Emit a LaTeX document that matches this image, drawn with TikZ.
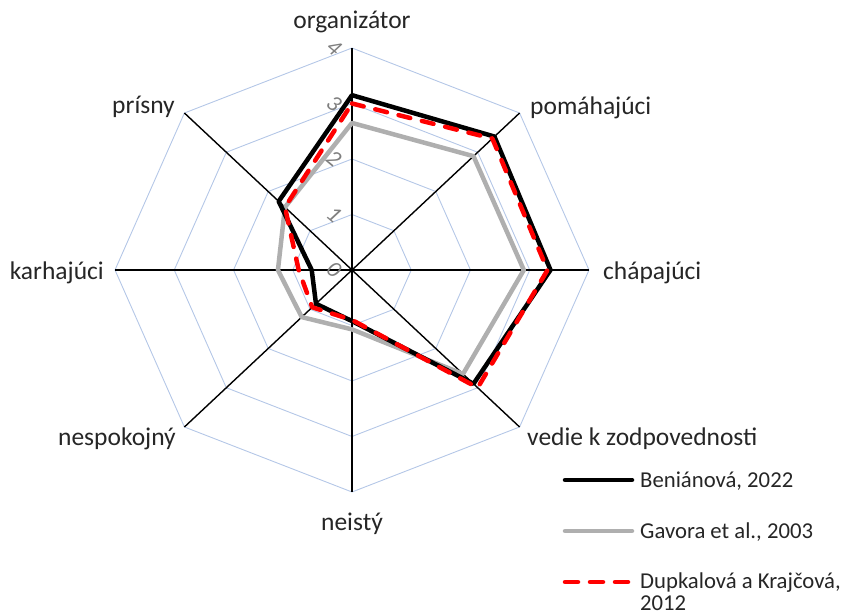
\documentclass[tikz,border=0pt]{standalone}
\usepackage{fontspec}
\setmainfont{Carlito}
\definecolor{ringblue}{HTML}{B4C7E7}
\definecolor{serGray}{HTML}{AFAFAF}
\definecolor{txt}{HTML}{262626}
\definecolor{tickgray}{HTML}{7F7F7F}
\tikzset{
  ring/.style={draw=ringblue, line width=0.9pt},
  spoke/.style={draw=black, line width=1.4pt},
  lbl/.style={inner sep=0pt, text=txt, font=\fontsize{25.5}{30}\selectfont},
  leg/.style={inner sep=0pt, text=txt, font=\fontsize{22.7}{27}\selectfont, anchor=base west},
  tick/.style={inner sep=0pt, text=tickgray, font=\itshape\fontsize{23}{27}\selectfont, rotate=-40},
  serBlack/.style={draw=black, line width=4.5pt, line join=round},
  serGrayLine/.style={draw=serGray, line width=4.5pt, line join=round},
  serRed/.style={draw=red, line width=4.5pt, line join=round, line cap=round, dash pattern=on 12pt off 12pt},
}
\begin{document}
\begin{tikzpicture}[x=1pt,y=1pt]
\useasboundingbox (0,0) rectangle (849,-615);

% radar grid, spokes and series, in value units around the centre
\begin{scope}[shift={(352,-270)}, x=59.25pt, y=55.5pt]
  \coordinate (c) at (0,0);
  \foreach \n/\a in {1/90,2/45,3/0,4/-45,5/-90,6/-135,7/180,8/135}
    \coordinate (ax\n) at (\a:4);
  \foreach \r in {1,2,3,4}
    \draw[ring] (90:\r)--(45:\r)--(0:\r)--(-45:\r)--(-90:\r)--(-135:\r)--(180:\r)--(135:\r)--cycle;
  \foreach \n in {1,...,8}
    \draw[spoke] (c) -- (ax\n);

  % Gavora et al., 2003
  \foreach \n/\a/\v in {1/90/2.65,2/45/2.9,3/0/2.9,4/-45/2.65,5/-90/1.07,6/-135/1.2,7/180/1.25,8/135/1.6}
    \coordinate (g\n) at (\a:\v);
  \draw[serGrayLine] (g1)--(g2)--(g3)--(g4)--(g5)--(g6)--(g7)--(g8)--cycle;

  % Beniánová, 2022
  \foreach \n/\a/\v in {1/90/3.15,2/45/3.4,3/0/3.35,4/-45/2.9,5/-90/0.92,6/-135/0.86,7/180/0.68,8/135/1.75}
    \coordinate (b\n) at (\a:\v);
  \draw[serBlack] (b1)--(b2)--(b3)--(b4)--(b5)--(b6)--(b7)--(b8)--cycle;

  % Dupkalová a Krajčová, 2012
  \foreach \n/\a/\v in {1/90/3.0,2/45/3.35,3/0/3.3,4/-45/3.0,5/-90/0.9,6/-135/0.95,7/180/0.9,8/135/1.6}
    \coordinate (d\n) at (\a:\v);
  \draw[serRed] (d1)--(d2)--(d3)--(d4)--(d5)--(d6)--(d7)--(d8)--cycle;
\end{scope}

% value scale
\foreach \k in {0,...,4}
  \node[tick] (t\k) at (334,{-270+55.5*\k}) {\k};

% axis labels
\node[lbl, anchor=base] (lorg) at (352,-29) {organizátor};
\node[lbl, anchor=base west] (lpom) at (530,-115) {pomáhajúci};
\node[lbl, anchor=base west] (lcha) at (603,-279) {chápajúci};
\node[lbl, anchor=base west] (lved) at (527,-445) {vedie k zodpovednosti};
\node[lbl, anchor=base] (lnei) at (352,-530) {neistý};
\node[lbl, anchor=base east] (lnes) at (176,-445) {nespokojný};
\node[lbl, anchor=base east] (lkar) at (104,-279) {karhajúci};
\node[lbl, anchor=base east] (lpri) at (175,-114) {prísny};

% legend
\coordinate (k1a) at (565,-480); \coordinate (k1b) at (632,-480);
\coordinate (k2a) at (565,-531); \coordinate (k2b) at (632,-531);
\coordinate (k3a) at (565,-582); \coordinate (k3b) at (632,-582);
\draw[serBlack, line cap=round] (k1a) -- (k1b);
\draw[serGrayLine, line cap=round] (k2a) -- (k2b);
\draw[serRed, dash pattern=on 13pt off 12pt] (k3a) -- (k3b);
\node[leg] (e1) at (640,-487) {Beniánová, 2022};
\node[leg] (e2) at (640,-538) {Gavora et al., 2003};
\node[leg] (e3) at (640,-588) {Dupkalová a Krajčová,};
\node[leg] (e4) at (640,-610) {2012};
\end{tikzpicture}
\end{document}
